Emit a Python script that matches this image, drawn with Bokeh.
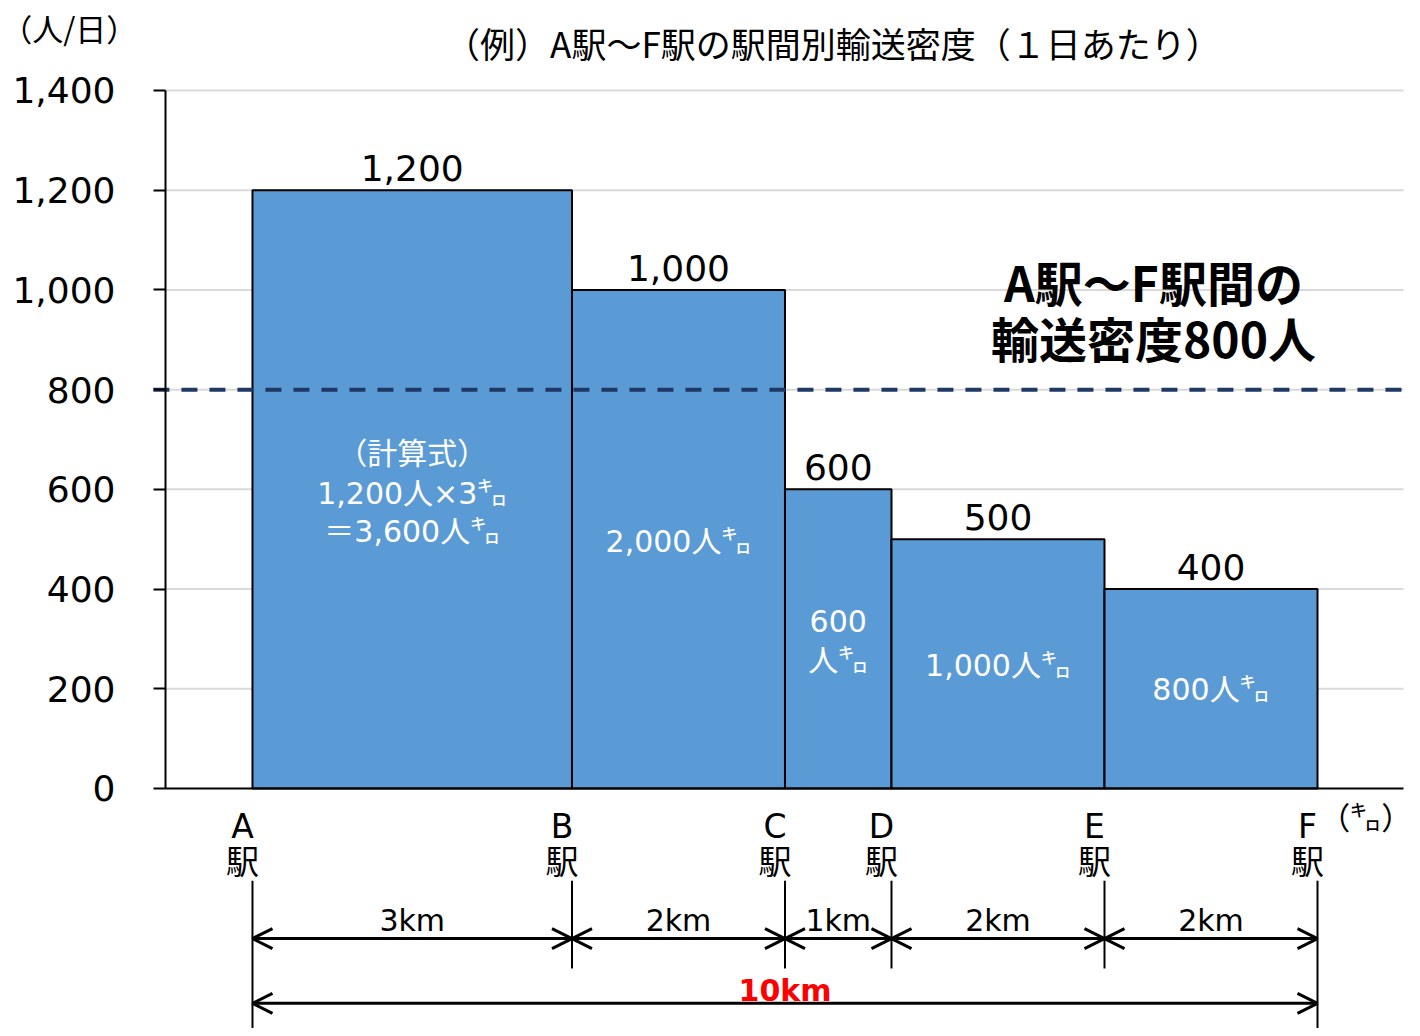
from bokeh.plotting import figure
from bokeh.models import Range1d, FixedTicker, NumeralTickFormatter, Arrow, OpenHead, ColumnDataSource
from bokeh.core.properties import value
from bokeh.embed import file_html
from bokeh.resources import INLINE

# ---------------- data ----------------
stations = ["A", "B", "C", "D", "E", "F"]
section_km = [3, 2, 1, 2, 2]
density = [1200, 1000, 600, 500, 400]
value_labels = ["1,200", "1,000", "600", "500", "400"]
inner_lines = ["（計算式）", "1,200人×3㌔", "＝3,600人㌔", "2,000人㌔", "600", "人㌔", "1,000人㌔", "800人㌔"]
inner_line_bar = [0, 0, 0, 1, 2, 2, 3, 4]
inner_line_y = [672, 592, 516, 495, 335, 257, 247, 199]
km_labels = ["3km", "2km", "1km", "2km", "2km"]
total_label = "10km"
average_density = 800
y_ticks = [0, 200, 400, 600, 800, 1000, 1200, 1400]
title_text = "（例）A駅～F駅の駅間別輸送密度（１日あたり）"
y_unit = "（人/日）"
x_unit = "（㌔）"
note_lines = ["A駅～F駅間の", "輸送密度800人"]

# ---------------- derived positions ----------------
station_x = [0]
for d in section_km:
    station_x.append(station_x[-1] + d)
left = station_x[:-1]
right = station_x[1:]
centers = [(l + r) / 2 for l, r in zip(left, right)]

JP = "DejaVu Sans, Noto Sans CJK JP"
CJK = "Noto Sans CJK JP"

# layout constants (data units)
X_MIN, X_MAX = -2.366, 10.892
Y_MIN, Y_MAX = -481.4, 1580.5
AXIS_X = -0.817
GRID_END = 10.8075
DASH_START = -0.93

p = figure(width=1412, height=1028, output_backend="svg", toolbar_location=None,
           x_range=Range1d(X_MIN, X_MAX), y_range=Range1d(Y_MIN, Y_MAX),
           x_axis_location=None, min_border=0, min_border_left=0, min_border_right=0,
           min_border_top=0, min_border_bottom=0)
p.outline_line_color = None
p.background_fill_color = "white"
p.border_fill_color = "white"
p.xgrid.visible = False
p.ygrid.visible = False

# y axis drawn at a fixed data location
yax = p.yaxis[0]
yax.fixed_location = AXIS_X
yax.bounds = (0, 1400)
yax.ticker = FixedTicker(ticks=y_ticks)
yax.formatter = NumeralTickFormatter(format="0,0")
yax.major_label_text_font = "DejaVu Sans"
yax.major_label_text_font_size = "36px"
yax.major_label_text_color = "black"
yax.major_tick_out = 12
yax.major_tick_in = 0
yax.minor_tick_line_color = None
yax.axis_line_color = "black"
yax.axis_line_width = 2
yax.major_tick_line_color = "black"
yax.major_tick_line_width = 2
yax.major_label_standoff = 38

# horizontal gridlines
grid_y = y_ticks[1:]
p.segment(x0=[AXIS_X] * len(grid_y), y0=grid_y, x1=[GRID_END] * len(grid_y), y1=grid_y,
          line_color="#D9D9D9", line_width=2)

# bars
src = ColumnDataSource(dict(left=left, right=right, top=density, bottom=[0] * 5,
                            cx=centers, vl=value_labels, vy=[d + 44 for d in density]))
p.quad(left="left", right="right", top="top", bottom="bottom", source=src,
       fill_color="#5B9BD5", line_color="black", line_width=2)

# baseline (x axis line)
p.segment(x0=[AXIS_X], y0=[0], x1=[GRID_END], y1=[0], line_color="black", line_width=2)

# average dashed line
p.segment(x0=[DASH_START], y0=[average_density], x1=[GRID_END], y1=[average_density],
          line_color="#1F3864", line_width=4, line_dash="16 12")

# value labels
p.text(x="cx", y="vy", text="vl", source=src, text_font=value("DejaVu Sans"),
       text_font_size="36px", text_color="black", text_align="center",
       text_baseline="middle")

# inner labels
p.text(x=[centers[i] for i in inner_line_bar], y=inner_line_y, text=inner_lines,
       text_font=value(JP), text_font_size="30px", text_color="white",
       text_align="center", text_baseline="middle")

# title
p.text(x=[5.45], y=[1496], text=[title_text], text_font=value(CJK),
       text_font_size="35px", text_color="black", text_align="center",
       text_baseline="middle")

# y unit
p.text(x=[-2.36], y=[1526], text=[y_unit], text_font=value(CJK),
       text_font_size="31px", text_color="black", text_align="left",
       text_baseline="middle")

# note
p.text(x=[8.46, 8.46], y=[1017, 905], text=note_lines, text_font=value(CJK),
       text_font_size="48px", text_font_style="bold", text_color="black",
       text_align="center", text_baseline="middle")

# station labels
p.text(x=station_x, y=[-76] * 6, text=stations, text_font=value("DejaVu Sans"),
       text_font_size="33px", text_color="black", text_align="center",
       text_baseline="middle", x_offset=-10)
p.text(x=station_x, y=[-144] * 6, text=["駅"] * 6, text_font=value(CJK),
       text_font_size="33px", text_color="black", text_align="center",
       text_baseline="middle", x_offset=-10)

# x unit
p.text(x=[10.89], y=[-54], text=[x_unit], text_font=value(CJK),
       text_font_size="31px", text_color="black", text_align="right",
       text_baseline="middle")

# station vertical lines
y_top_line = -185
y_bot_line = [Y_MIN if i in (0, 5) else -361 for i in range(6)]
p.segment(x0=station_x, y0=[y_top_line] * 6, x1=station_x, y1=y_bot_line,
          line_color="black", line_width=2)

# section arrows
arr_src = ColumnDataSource(dict(xs=left, xe=right, y=[-301] * 5))
p.add_layout(Arrow(start=OpenHead(size=20, line_width=3), end=OpenHead(size=20, line_width=3),
                   x_start="xs", y_start="y", x_end="xe", y_end="y", source=arr_src,
                   line_width=3, line_color="black"))
p.text(x=centers, y=[-265] * 5, text=km_labels, text_font=value("DejaVu Sans"),
       text_font_size="30px", text_color="black", text_align="center",
       text_baseline="middle")

# total arrow
p.add_layout(Arrow(start=OpenHead(size=20, line_width=3), end=OpenHead(size=20, line_width=3),
                   x_start=station_x[0], y_start=-431, x_end=station_x[-1], y_end=-431,
                   line_width=3, line_color="black"))
p.text(x=[(station_x[0] + station_x[-1]) / 2], y=[-405], text=[total_label],
       text_font=value("DejaVu Sans"), text_font_size="30px", text_font_style="bold",
       text_color="#FF0000", text_align="center", text_baseline="middle")

open("out.html", "w").write(file_html(p, INLINE))
